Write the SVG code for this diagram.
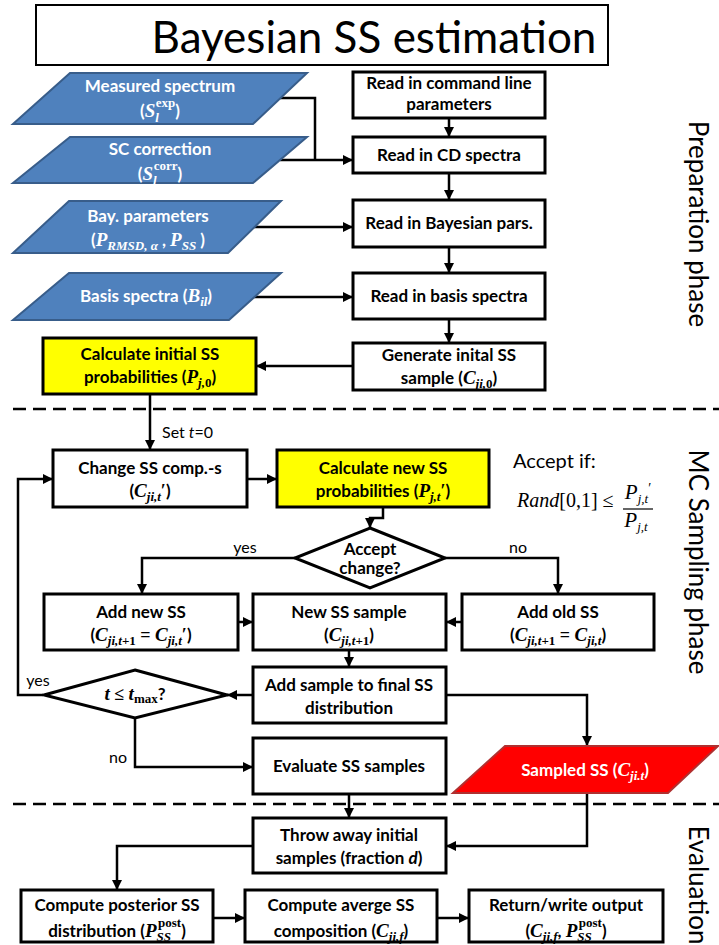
<svg xmlns="http://www.w3.org/2000/svg" width="719" height="945" viewBox="0 0 719 945">
<style>
.box{fill:#fff;stroke:#000;stroke-width:3}
.yel{fill:#ffff00;stroke:#000;stroke-width:3}
.para{fill:#4f81bd;stroke:#385d8a;stroke-width:2}
.red{fill:#ff0000;stroke:#b03030;stroke-width:2}
.lbl{font-family:Lato,'Open Sans',sans-serif;font-weight:bold;font-size:17px;text-anchor:middle;fill:#000}
.w{fill:#fff}
.M{font-family:'Liberation Serif',serif;font-style:italic;font-size:19px}
.s{font-family:'Liberation Serif',serif;font-style:italic;font-size:13px}
.su{font-family:'Liberation Serif',serif;font-style:normal;font-size:13px}
.u{font-family:'Liberation Serif',serif;font-style:normal;font-size:18px}
.reg{font-family:Lato,'Open Sans',sans-serif;font-size:16px;fill:#000}
.side{font-family:Lato,'Open Sans',sans-serif;font-size:26px;text-anchor:middle;fill:#000}
.conn path{fill:none;stroke:#000;stroke-width:2.5}
.dash{stroke:#000;stroke-width:2.5;stroke-dasharray:13 7}
</style>
<defs>
<marker id="ah" markerWidth="10" markerHeight="10" refX="10" refY="5" orient="auto" markerUnits="userSpaceOnUse"><path d="M0,0 L10,5 L0,10 z" fill="#000"/></marker>
</defs>

<g id="title">
<rect x="36" y="5" width="572" height="60" fill="#fff" stroke="#000" stroke-width="2"/>
<text x="374" y="53" font-family="Lato,'Open Sans',sans-serif" font-size="44" text-anchor="middle">Bayesian SS estimation</text>
</g>

<line class="dash" x1="13" y1="409" x2="719" y2="409"/>
<line class="dash" x1="13" y1="804" x2="719" y2="804"/>

<g id="side-labels">
<text class="side" transform="translate(689,224) rotate(90)">Preparation phase</text>
<text class="side" transform="translate(689,562) rotate(90)" font-size="27">MC Sampling phase</text>
<text class="side" transform="translate(689,885) rotate(90)">Evaluation</text>
</g>

<g class="conn" id="connectors">
<path d="M278,98 H315 V160"/>
<path d="M280,160 H353" marker-end="url(#ah)"/>
<path d="M252,227 H353" marker-end="url(#ah)"/>
<path d="M254,297 H353" marker-end="url(#ah)"/>
<path d="M449,118 V137" marker-end="url(#ah)"/>
<path d="M449,173 V200" marker-end="url(#ah)"/>
<path d="M449,247 V273" marker-end="url(#ah)"/>
<path d="M449,319 V343" marker-end="url(#ah)"/>
<path d="M353,366 H256" marker-end="url(#ah)"/>
<path d="M150,394 V450" marker-end="url(#ah)"/>
<path d="M247,479 H277" marker-end="url(#ah)"/>
<path d="M383,507 V518 H370 V528" marker-end="url(#ah)"/>
<path d="M295,558 H142 V594" marker-end="url(#ah)"/>
<path d="M445,558 H558 V594" marker-end="url(#ah)"/>
<path d="M238,622 H253" marker-end="url(#ah)"/>
<path d="M462,622 H446" marker-end="url(#ah)"/>
<path d="M349,650 V667" marker-end="url(#ah)"/>
<path d="M253,695 H227" marker-end="url(#ah)"/>
<path d="M43,695 H18 V479 H53" marker-end="url(#ah)"/>
<path d="M135,718 V767 H253" marker-end="url(#ah)"/>
<path d="M446,695 H587 V746" marker-end="url(#ah)"/>
<path d="M349,794 V818" marker-end="url(#ah)"/>
<path d="M587,793 V846 H446" marker-end="url(#ah)"/>
<path d="M253,846 H117 V890" marker-end="url(#ah)"/>
<path d="M213,918 H245" marker-end="url(#ah)"/>
<path d="M437,918 H469" marker-end="url(#ah)"/>
</g>

<g id="edge-labels">
<text class="reg" x="162" y="438">Set <tspan font-style="italic">t</tspan>=0</text>
<text class="reg" x="245" y="553" text-anchor="middle">yes</text>
<text class="reg" x="518" y="553" text-anchor="middle">no</text>
<text class="reg" x="38" y="686" text-anchor="middle">yes</text>
<text class="reg" x="118" y="763" text-anchor="middle">no</text>
</g>

<g id="accept-rule">
<text x="513" y="468" font-family="Lato,'Open Sans',sans-serif" font-size="20">Accept if:</text>
<text x="517" y="507" font-size="20" font-family="'Liberation Serif',serif" font-style="italic">Rand<tspan font-style="normal">[0,1] ≤</tspan></text>
<text x="638" y="499" font-size="21" font-family="'Liberation Serif',serif" font-style="italic" text-anchor="middle">P<tspan font-size="13" dy="4">j,t</tspan><tspan font-style="normal" font-size="14" dy="-10">′</tspan></text>
<line x1="623" y1="509" x2="653" y2="509" stroke="#000" stroke-width="1.2"/>
<text x="636" y="527" font-size="21" font-family="'Liberation Serif',serif" font-style="italic" text-anchor="middle">P<tspan font-size="13" dy="4">j,t</tspan></text>
</g>

<g id="measured">
<polygon class="para" points="70,73 307,73 253,124 13,124"/>
<text class="lbl w" x="160" y="92">Measured spectrum</text>
<text class="lbl w" x="160" y="117" font-size="18">(<tspan class="M">S</tspan><tspan class="s" dy="5">l</tspan><tspan class="su" dx="-3" dy="-15">exp</tspan><tspan dy="10">)</tspan></text>
</g>
<g id="sc-correction">
<polygon class="para" points="70,137 307,137 253,183 13,183"/>
<text class="lbl w" x="160" y="155">SC correction</text>
<text class="lbl w" x="160" y="180" font-size="18">(<tspan class="M">S</tspan><tspan class="s" dy="5">l</tspan><tspan class="su" dx="-3" dy="-15">corr</tspan><tspan dy="10">)</tspan></text>
</g>
<g id="bay-params">
<polygon class="para" points="69,201 281,201 228,253 13,253"/>
<text class="lbl w" x="148" y="222">Bay. parameters</text>
<text class="lbl w" x="148" y="246" font-size="18">(<tspan class="M">P</tspan><tspan class="s" dy="4">RMSD, α</tspan><tspan dy="-4"> , </tspan><tspan class="M">P</tspan><tspan class="s" dy="4">SS</tspan><tspan dy="-4"> )</tspan></text>
</g>
<g id="basis">
<polygon class="para" points="69,273 281,273 229,320 13,320"/>
<text class="lbl w" x="146" y="302">Basis spectra (<tspan class="M">B</tspan><tspan class="s" dy="4">il</tspan><tspan dy="-4">)</tspan></text>
</g>

<g id="read-cmd">
<rect class="box" x="353" y="72" width="192" height="46"/>
<text class="lbl" x="449" y="89">Read in command line</text>
<text class="lbl" x="449" y="110">parameters</text>
</g>
<g id="read-cd">
<rect class="box" x="353" y="137" width="192" height="36"/>
<text class="lbl" x="449" y="161">Read in CD spectra</text>
</g>
<g id="read-bay">
<rect class="box" x="353" y="200" width="192" height="47"/>
<text class="lbl" x="449" y="229">Read in Bayesian pars.</text>
</g>
<g id="read-basis">
<rect class="box" x="353" y="273" width="192" height="46"/>
<text class="lbl" x="449" y="302">Read in basis spectra</text>
</g>
<g id="gen-init">
<rect class="box" x="353" y="343" width="192" height="47"/>
<text class="lbl" x="449" y="361">Generate inital SS</text>
<text class="lbl" x="449" y="384">sample (<tspan class="M">C</tspan><tspan class="s" dy="4">ji,</tspan><tspan class="su">0</tspan><tspan dy="-4">)</tspan></text>
</g>
<g id="calc-init">
<rect class="yel" x="43" y="338" width="213" height="56"/>
<text class="lbl" x="150" y="360">Calculate initial SS</text>
<text class="lbl" x="150" y="383">probabilities (<tspan class="M">P</tspan><tspan class="s" dy="4">j,</tspan><tspan class="su">0</tspan><tspan dy="-4">)</tspan></text>
</g>

<g id="change-ss">
<rect class="box" x="53" y="450" width="194" height="57"/>
<text class="lbl" x="150" y="474">Change SS comp.-s</text>
<text class="lbl" x="150" y="497">(<tspan class="M">C</tspan><tspan class="s" dy="4">ji,t</tspan><tspan class="u" dy="-4">′</tspan>)</text>
</g>
<g id="calc-new">
<rect class="yel" x="277" y="450" width="212" height="57"/>
<text class="lbl" x="383" y="474">Calculate new SS</text>
<text class="lbl" x="383" y="497">probabilities (<tspan class="M">P</tspan><tspan class="s" dy="4">j,t</tspan><tspan class="u" dy="-4">′</tspan>)</text>
</g>
<g id="accept-change">
<polygon class="box" points="370,528 445,558 370,588 295,558"/>
<text class="lbl" x="370" y="555" font-size="14">Accept</text>
<text class="lbl" x="370" y="574" font-size="14">change?</text>
</g>
<g id="add-new">
<rect class="box" x="44" y="594" width="194" height="56"/>
<text class="lbl" x="141" y="618">Add new SS</text>
<text class="lbl" x="141" y="641">(<tspan class="M">C</tspan><tspan class="s" dy="4">ji,t</tspan><tspan class="su">+1</tspan><tspan class="u" dy="-4"> = </tspan><tspan class="M">C</tspan><tspan class="s" dy="4">ji,t</tspan><tspan class="u" dy="-4">′</tspan>)</text>
</g>
<g id="new-sample">
<rect class="box" x="253" y="594" width="193" height="56"/>
<text class="lbl" x="349" y="618">New SS sample</text>
<text class="lbl" x="349" y="641">(<tspan class="M">C</tspan><tspan class="s" dy="4">ji,t</tspan><tspan class="su">+1</tspan><tspan dy="-4">)</tspan></text>
</g>
<g id="add-old">
<rect class="box" x="462" y="594" width="192" height="56"/>
<text class="lbl" x="558" y="618">Add old SS</text>
<text class="lbl" x="558" y="641">(<tspan class="M">C</tspan><tspan class="s" dy="4">ji,t</tspan><tspan class="su">+1</tspan><tspan class="u" dy="-4"> = </tspan><tspan class="M">C</tspan><tspan class="s" dy="4">ji,t</tspan><tspan dy="-4">)</tspan></text>
</g>
<g id="add-sample">
<rect class="box" x="253" y="667" width="193" height="56"/>
<text class="lbl" x="349" y="691">Add sample to final SS</text>
<text class="lbl" x="349" y="714">distribution</text>
</g>
<g id="t-check">
<polygon class="box" points="135,670 227,695 135,718 44,695"/>
<text class="lbl" x="135" y="700" font-size="16"><tspan class="M" font-size="18">t</tspan><tspan class="u" font-size="16">  ≤ </tspan><tspan class="M" font-size="18">t</tspan><tspan class="su" dy="3">max</tspan><tspan dy="-3">?</tspan></text>
</g>
<g id="evaluate">
<rect class="box" x="253" y="738" width="193" height="56"/>
<text class="lbl" x="349" y="772">Evaluate SS samples</text>
</g>
<g id="sampled">
<polygon class="red" points="505,746 718,746 668,793 453,793"/>
<text class="lbl w" x="585" y="776" font-size="18">Sampled SS  (<tspan class="M">C</tspan><tspan class="s" dy="4">ji.t</tspan><tspan dy="-4">)</tspan></text>
</g>

<g id="throw-away">
<rect class="box" x="253" y="818" width="193" height="55"/>
<text class="lbl" x="349" y="841">Throw away initial</text>
<text class="lbl" x="349" y="864">samples (fraction <tspan font-style="italic">d</tspan>)</text>
</g>
<g id="posterior">
<rect class="box" x="21" y="890" width="192" height="52"/>
<text class="lbl" x="117" y="911">Compute posterior SS</text>
<text class="lbl" x="117" y="937">distribution (<tspan class="M">P</tspan><tspan class="s" dy="4">SS</tspan><tspan class="su" dx="-13" dy="-14">post</tspan><tspan dy="10">)</tspan></text>
</g>
<g id="average">
<rect class="box" x="245" y="890" width="192" height="52"/>
<text class="lbl" x="341" y="911">Compute averge SS</text>
<text class="lbl" x="341" y="937">composition (<tspan class="M">C</tspan><tspan class="s" dy="4">ji,f</tspan><tspan dy="-4">)</tspan></text>
</g>
<g id="return">
<rect class="box" x="469" y="890" width="194" height="52"/>
<text class="lbl" x="566" y="911">Return/write output</text>
<text class="lbl" x="566" y="937">(<tspan class="M">C</tspan><tspan class="s" dy="4">ji,f</tspan><tspan dy="-4">, </tspan><tspan class="M">P</tspan><tspan class="s" dy="4">SS</tspan><tspan class="su" dx="-13" dy="-14">post</tspan><tspan dy="10">)</tspan></text>
</g>
</svg>
